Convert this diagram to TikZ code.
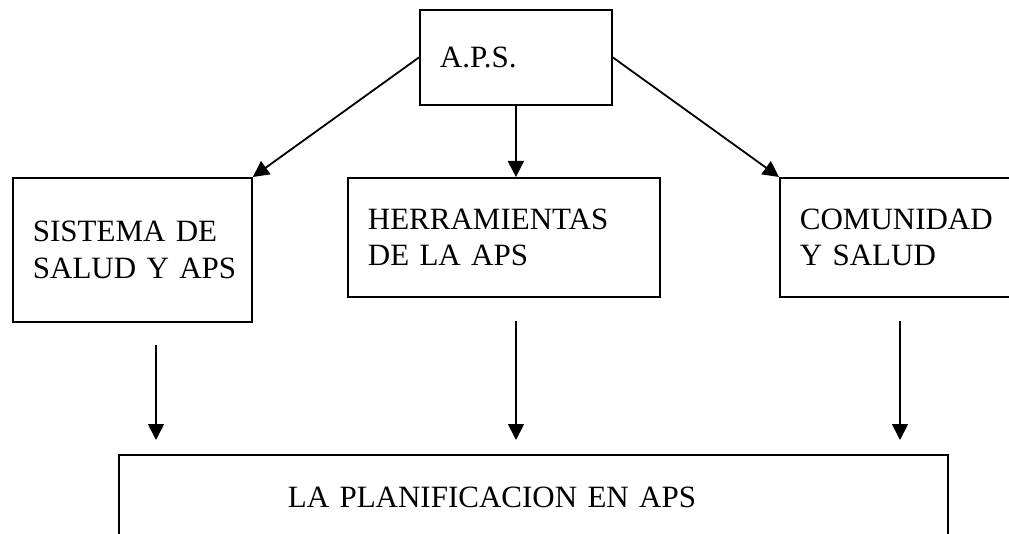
\documentclass[tikz,border=0pt]{standalone}
\usepackage{fontspec}
\setmainfont{Liberation Serif}
\usetikzlibrary{arrows.meta}
\begin{document}
\begin{tikzpicture}[x=1pt,y=-1pt,
  box/.style={draw, line width=1.8pt, inner xsep=20pt, inner ysep=0pt, align=left,
    anchor=north west, font=\fontsize{31}{36.5}\selectfont},
  arr/.style={line width=1.8pt, -{Triangle[length=16pt,width=16pt]}}]
\useasboundingbox (0,0) rectangle (1009,534);
\clip (0,0) rectangle (1009,534);
\node[box, text width=152pt, minimum height=95pt] (aps) at (419,9) {A.P.S.};
\node[box, text width=199pt, minimum height=144pt] (sis) at (12,177) {SISTEMA~DE\\\mbox{SALUD Y APS}};
\node[box, text width=272pt, minimum height=119pt] (her) at (347,177) {HERRAMIENTAS\\DE LA APS};
\node[box, text width=220pt, minimum height=119pt] (com) at (779,177) {COMUNIDAD\\Y SALUD};
\node[box, inner xsep=169pt, text width=491pt, minimum height=84pt] (pla) at (118,454) {LA PLANIFICACION EN APS};
\draw[arr] (aps.west) -- (sis.north east);
\draw[arr] (aps.east) -- (com.north west);
\draw[arr] (aps.south) -- (aps.south |- her.north);
\coordinate (s1) at (156,345);
\coordinate (e1) at (156,440);
\coordinate (s2) at (516,321);
\coordinate (e2) at (516,440);
\coordinate (s3) at (900,321);
\coordinate (e3) at (900,440);
\draw[arr] (s1) -- (e1);
\draw[arr] (s2) -- (e2);
\draw[arr] (s3) -- (e3);
\end{tikzpicture}
\end{document}
